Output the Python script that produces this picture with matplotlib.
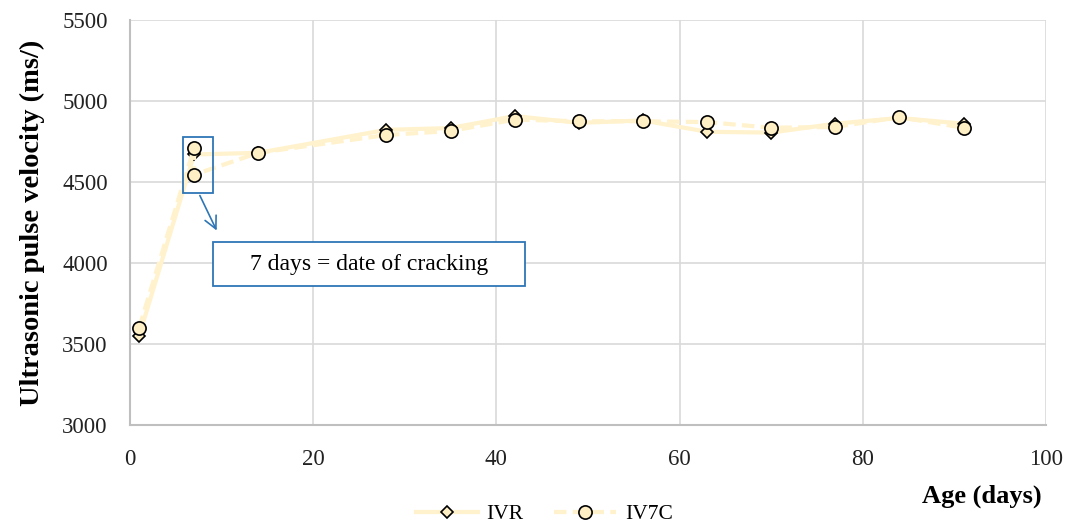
import matplotlib.pyplot as plt
from matplotlib.patches import Rectangle

plt.rcParams['font.family'] = ['Liberation Serif', 'DejaVu Serif']

# ages (days) and velocities
dias_ivr = [1, 7, 14, 28, 35, 42, 49, 56, 63, 70, 77, 84, 91]
vel_ivr = [3550, 4670, 4680, 4822, 4833, 4907, 4865, 4880, 4810, 4805, 4860, 4895, 4860]

dias_iv7c = [1, 7, 7, 14, 28, 35, 42, 49, 56, 63, 70, 77, 84, 91]
vel_iv7c = [3600, 4710, 4545, 4680, 4790, 4815, 4885, 4875, 4875, 4870, 4835, 4840, 4900, 4835]

linea = "#FFF2CC"
relleno = "#FFEFC4"
azul = "#2E75B6"

fig = plt.figure(figsize=(10.67, 5.28), dpi=100)
ax = fig.add_axes([0.1218, 0.1951, 0.8585, 0.767])

ax.plot(dias_ivr, vel_ivr, color=linea, linewidth=3, marker="D", markersize=6.5,
        markerfacecolor=relleno, markeredgecolor="black", markeredgewidth=1.2,
        label="IVR", zorder=3)
ax.plot(dias_iv7c, vel_iv7c, color=linea, linewidth=3, linestyle=(0, (3, 1.5)),
        marker="o", markersize=9.5, markerfacecolor=relleno,
        markeredgecolor="black", markeredgewidth=1.2, label="IV7C", zorder=4)

ax.set_xlim(0, 100)
ax.set_ylim(3000, 5500)
ax.set_xticks(range(0, 101, 20))
ax.set_yticks(range(3000, 5501, 500))
ax.grid(True, color="#D9D9D9", linewidth=1.2)
ax.set_axisbelow(True)
for lado in ["top", "right"]:
    ax.spines[lado].set_visible(False)
for lado in ["left", "bottom"]:
    ax.spines[lado].set_color("#BFBFBF")
    ax.spines[lado].set_linewidth(1.5)
ax.tick_params(axis="y", length=0, labelsize=16.5, pad=16, colors="#222222")
ax.tick_params(axis="x", length=0, labelsize=16.5, pad=17, colors="#222222")

ax.set_ylabel("Ultrasonic pulse velocity (ms/)", fontsize=20.5, fontweight="bold")
ax.yaxis.set_label_coords(-0.093, 0.5)
fig.text(0.976, 0.06, "Age (days)", fontsize=19, fontweight="bold", ha="right", va="center")

# annotation: box around day 7 points, arrow and text box
ax.add_patch(Rectangle((5.8, 4432), 3.25, 346, fill=False, edgecolor=azul, linewidth=1.3, zorder=5))
ax.annotate("", xy=(9.6, 4185), xytext=(7.5, 4432),
            arrowprops=dict(arrowstyle="->", color=azul, linewidth=1.2, mutation_scale=22), zorder=5)
ax.add_patch(Rectangle((9.1, 3858), 34.0, 272, facecolor="white", edgecolor=azul, linewidth=1.3, zorder=5))
ax.text(26.1, 3990, "7 days = date of cracking", fontsize=17, ha="center", va="center", zorder=6)

fig.legend(loc="center", bbox_to_anchor=(0.51, 0.026), ncol=2, frameon=False,
           fontsize=15.5, handlelength=2.9, handletextpad=0.4, columnspacing=1.4,
           borderpad=0.1)

fig.savefig("out.png", dpi=100)
